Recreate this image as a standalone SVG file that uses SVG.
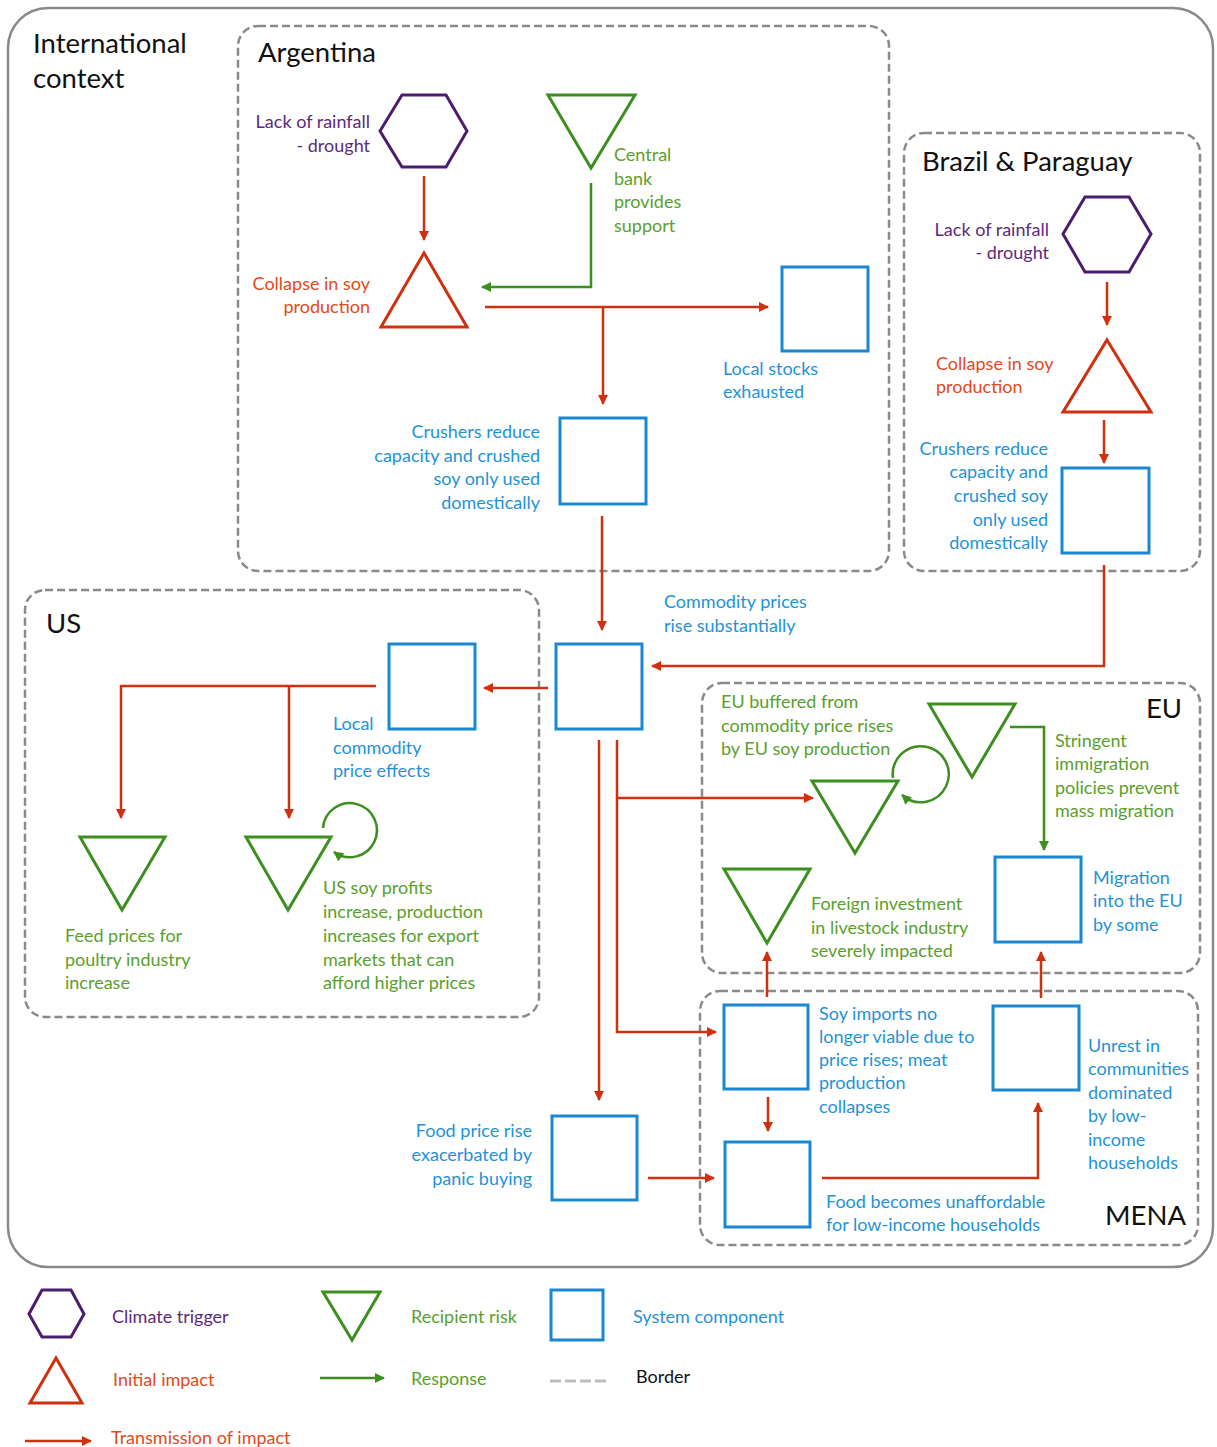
<svg xmlns="http://www.w3.org/2000/svg" width="1217" height="1447" viewBox="0 0 1217 1447">
<defs>
<marker id="ar" viewBox="0 0 10 10" refX="9" refY="5" markerWidth="11" markerHeight="10" markerUnits="userSpaceOnUse" orient="auto"><path d="M0,0 L10,5 L0,10 z" fill="#d0300e"/></marker>
<marker id="ag" viewBox="0 0 10 10" refX="9" refY="5" markerWidth="11" markerHeight="10" markerUnits="userSpaceOnUse" orient="auto"><path d="M0,0 L10,5 L0,10 z" fill="#3d8f1f"/></marker>
<style>
text{font-family:Lato,"Open Sans","Liberation Sans",sans-serif;font-size:18px}
.t{font-size:27.5px;fill:#111}
.pu{fill:#5d2a7e}.or{fill:#e24a1a}.gr{fill:#5aa02c}.bl{fill:#1f93d6}.bk{fill:#111}
.r{text-anchor:end}
.hex{fill:none;stroke:#4b1d6e;stroke-width:3}
.tri{fill:none;stroke:#d0300e;stroke-width:3}
.inv{fill:none;stroke:#3d8f1f;stroke-width:3}
.box{fill:none;stroke:#1b87d2;stroke-width:3}
.bd{fill:none;stroke:#8a8a8a;stroke-width:2.5;stroke-dasharray:8 4}
.er{fill:none;stroke:#d0300e;stroke-width:2.5}
.eg{fill:none;stroke:#3d8f1f;stroke-width:2.5}
</style>
</defs>
<rect x="8" y="8" width="1205" height="1259" rx="40" fill="none" stroke="#8a8a8a" stroke-width="2.5"/>
<text class="t" x="33" y="53">International</text>
<text class="t" x="33" y="88">context</text>

<g id="borders">
<rect class="bd" x="238" y="26" width="651" height="545" rx="20"/>
<text class="t" x="258" y="62">Argentina</text>
<rect class="bd" x="904" y="133" width="296" height="438" rx="20"/>
<text class="t" x="922" y="171">Brazil &amp; Paraguay</text>
<rect class="bd" x="25" y="590" width="514" height="427" rx="20"/>
<text class="t" x="46" y="633">US</text>
<rect class="bd" x="702" y="683" width="498" height="290" rx="20"/>
<text class="t r" x="1182" y="718">EU</text>
<rect class="bd" x="700" y="991" width="498" height="254" rx="20"/>
<text class="t r" x="1186" y="1225">MENA</text>
</g>

<g id="connectors">
<line class="er" x1="424" y1="176" x2="424" y2="240" marker-end="url(#ar)"/>
<polyline class="eg" points="591,183 591,287 482,287" marker-end="url(#ag)"/>
<line class="er" x1="485" y1="307" x2="768" y2="307" marker-end="url(#ar)"/>
<line class="er" x1="603" y1="307" x2="603" y2="404" marker-end="url(#ar)"/>
<line class="er" x1="602" y1="516" x2="602" y2="630" marker-end="url(#ar)"/>
<line class="er" x1="1107" y1="282" x2="1107" y2="325" marker-end="url(#ar)"/>
<line class="er" x1="1104" y1="420" x2="1104" y2="463" marker-end="url(#ar)"/>
<polyline class="er" points="1104,565 1104,666 652,666" marker-end="url(#ar)"/>
<line class="er" x1="548" y1="688" x2="484" y2="688" marker-end="url(#ar)"/>
<polyline class="er" points="376,686 121,686 121,818" marker-end="url(#ar)"/>
<line class="er" x1="289" y1="686" x2="289" y2="818" marker-end="url(#ar)"/>
<path class="eg" d="M323,828 A27,27 0 1 1 334,852" marker-end="url(#ag)"/>
<line class="er" x1="599" y1="740" x2="599" y2="1100" marker-end="url(#ar)"/>
<polyline class="er" points="617,740 617,1032 716,1032" marker-end="url(#ar)"/>
<line class="er" x1="617" y1="798" x2="813" y2="798" marker-end="url(#ar)"/>
<path class="eg" d="M893,778 A28,28 0 1 1 902,795" marker-end="url(#ag)"/>
<polyline class="eg" points="1010,727 1044,727 1044,850" marker-end="url(#ag)"/>
<line class="er" x1="767" y1="997" x2="767" y2="952" marker-end="url(#ar)"/>
<line class="er" x1="1041" y1="998" x2="1041" y2="952" marker-end="url(#ar)"/>
<line class="er" x1="768" y1="1097" x2="768" y2="1131" marker-end="url(#ar)"/>
<polyline class="er" points="822,1178 1038,1178 1038,1103" marker-end="url(#ar)"/>
<line class="er" x1="648" y1="1178" x2="714" y2="1178" marker-end="url(#ar)"/>
</g>

<g id="ar-drought">
<polygon class="hex" points="380,131 402,95 446,95 467,131 446,167 402,167"/>
<text class="pu r" x="370" y="128">Lack of rainfall</text>
<text class="pu r" x="370" y="152">- drought</text>
</g>
<g id="ar-collapse">
<polygon class="tri" points="424,253 467,327 381,327"/>
<text class="or r" x="370" y="290">Collapse in soy</text>
<text class="or r" x="370" y="313">production</text>
</g>
<g id="ar-bank">
<polygon class="inv" points="548,95 635,95 591,168"/>
<text class="gr" x="614" y="161">Central</text>
<text class="gr" x="614" y="185">bank</text>
<text class="gr" x="614" y="208">provides</text>
<text class="gr" x="614" y="232">support</text>
</g>
<g id="ar-stocks">
<rect class="box" x="782" y="267" width="86" height="84"/>
<text class="bl" x="723" y="375">Local stocks</text>
<text class="bl" x="723" y="398">exhausted</text>
</g>
<g id="ar-crushers">
<rect class="box" x="560" y="418" width="86" height="86"/>
<text class="bl r" x="540" y="438">Crushers reduce</text>
<text class="bl r" x="540" y="462">capacity and crushed</text>
<text class="bl r" x="540" y="485">soy only used</text>
<text class="bl r" x="540" y="509">domestically</text>
</g>

<g id="bp-drought">
<polygon class="hex" points="1063,234 1085,197 1129,197 1151,234 1129,272 1085,272"/>
<text class="pu r" x="1049" y="236">Lack of rainfall</text>
<text class="pu r" x="1049" y="259">- drought</text>
</g>
<g id="bp-collapse">
<polygon class="tri" points="1107,340 1151,412 1063,412"/>
<text class="or" x="936" y="370">Collapse in soy</text>
<text class="or" x="936" y="393">production</text>
</g>
<g id="bp-crushers">
<rect class="box" x="1062" y="468" width="87" height="85"/>
<text class="bl r" x="1048" y="455">Crushers reduce</text>
<text class="bl r" x="1048" y="478">capacity and</text>
<text class="bl r" x="1048" y="502">crushed soy</text>
<text class="bl r" x="1048" y="526">only used</text>
<text class="bl r" x="1048" y="549">domestically</text>
</g>

<g id="commodity">
<rect class="box" x="556" y="644" width="86" height="85"/>
<text class="bl" x="664" y="608">Commodity prices</text>
<text class="bl" x="664" y="632">rise substantially</text>
</g>

<g id="us-local">
<rect class="box" x="389" y="644" width="86" height="85"/>
<text class="bl" x="333" y="730">Local</text>
<text class="bl" x="333" y="754">commodity</text>
<text class="bl" x="333" y="777">price effects</text>
</g>
<g id="us-feed">
<polygon class="inv" points="80,837 165,837 122,910"/>
<text class="gr" x="65" y="942">Feed prices for</text>
<text class="gr" x="65" y="966">poultry industry</text>
<text class="gr" x="65" y="989">increase</text>
</g>
<g id="us-profits">
<polygon class="inv" points="246,837 331,837 288,910"/>
<text class="gr" x="323" y="894">US soy profits</text>
<text class="gr" x="323" y="918">increase, production</text>
<text class="gr" x="323" y="942">increases for export</text>
<text class="gr" x="323" y="966">markets that can</text>
<text class="gr" x="323" y="989">afford higher prices</text>
</g>

<g id="eu-buffered">
<polygon class="inv" points="812,781 898,781 855,853"/>
<text class="gr" x="721" y="708">EU buffered from</text>
<text class="gr" x="721" y="732">commodity price rises</text>
<text class="gr" x="721" y="755">by EU soy production</text>
</g>
<g id="eu-immigration">
<polygon class="inv" points="929,704 1015,704 972,777"/>
<text class="gr" x="1055" y="747">Stringent</text>
<text class="gr" x="1055" y="770">immigration</text>
<text class="gr" x="1055" y="794">policies prevent</text>
<text class="gr" x="1055" y="817">mass migration</text>
</g>
<g id="eu-migration">
<rect class="box" x="995" y="857" width="86" height="85"/>
<text class="bl" x="1093" y="884">Migration</text>
<text class="bl" x="1093" y="907">into the EU</text>
<text class="bl" x="1093" y="931">by some</text>
</g>
<g id="eu-investment">
<polygon class="inv" points="724,869 810,869 767,943"/>
<text class="gr" x="811" y="910">Foreign investment</text>
<text class="gr" x="811" y="934">in livestock industry</text>
<text class="gr" x="811" y="957">severely impacted</text>
</g>

<g id="mena-imports">
<rect class="box" x="724" y="1005" width="84" height="84"/>
<text class="bl" x="819" y="1020">Soy imports no</text>
<text class="bl" x="819" y="1043">longer viable due to</text>
<text class="bl" x="819" y="1066">price rises; meat</text>
<text class="bl" x="819" y="1089">production</text>
<text class="bl" x="819" y="1113">collapses</text>
</g>
<g id="mena-unaffordable">
<rect class="box" x="725" y="1142" width="85" height="85"/>
<text class="bl" x="826" y="1208">Food becomes unaffordable</text>
<text class="bl" x="826" y="1231">for low-income households</text>
</g>
<g id="mena-unrest">
<rect class="box" x="993" y="1006" width="86" height="84"/>
<text class="bl" x="1088" y="1052">Unrest in</text>
<text class="bl" x="1088" y="1075">communities</text>
<text class="bl" x="1088" y="1099">dominated</text>
<text class="bl" x="1088" y="1122">by low-</text>
<text class="bl" x="1088" y="1146">income</text>
<text class="bl" x="1088" y="1169">households</text>
</g>
<g id="food-price">
<rect class="box" x="552" y="1116" width="85" height="84"/>
<text class="bl r" x="532" y="1137">Food price rise</text>
<text class="bl r" x="532" y="1161">exacerbated by</text>
<text class="bl r" x="532" y="1185">panic buying</text>
</g>

<g id="legend">
<polygon class="hex" points="29,1314 42,1290 71,1290 84,1314 71,1337 42,1337"/>
<text class="pu" x="112" y="1323">Climate trigger</text>
<polygon class="tri" points="56,1358 82,1403 30,1403"/>
<text class="or" x="113" y="1386">Initial impact</text>
<line class="er" x1="25" y1="1441" x2="91" y2="1441" marker-end="url(#ar)"/>
<text class="or" x="111" y="1444">Transmission of impact</text>
<polygon class="inv" points="323,1292 380,1292 352,1340"/>
<text class="gr" x="411" y="1323">Recipient risk</text>
<line class="eg" x1="320" y1="1378" x2="384" y2="1378" marker-end="url(#ag)"/>
<text class="gr" x="411" y="1385">Response</text>
<rect class="box" x="551" y="1290" width="52" height="50"/>
<text class="bl" x="633" y="1323">System component</text>
<line x1="550" y1="1381" x2="610" y2="1381" stroke="#bdbdbd" stroke-width="3" stroke-dasharray="11 4"/>
<text class="bk" x="636" y="1383">Border</text>
</g>
</svg>
